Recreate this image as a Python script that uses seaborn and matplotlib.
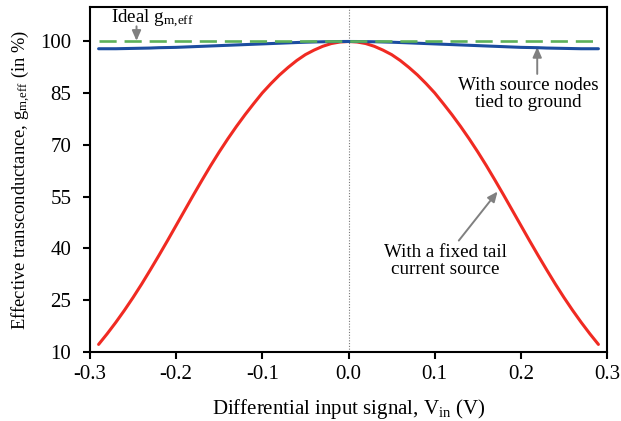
import numpy as np
import pandas as pd
import matplotlib
matplotlib.use("Agg")
import matplotlib.pyplot as plt
import seaborn as sns

# Differential input voltage (V)
vin = [-0.29, -0.28, -0.27, -0.26, -0.25, -0.24, -0.23, -0.22, -0.21, -0.20,
       -0.19, -0.18, -0.17, -0.16, -0.15, -0.14, -0.13, -0.12, -0.11, -0.10,
       -0.09, -0.08, -0.07, -0.06, -0.05, -0.04, -0.03, -0.02, -0.01, 0.00,
       0.01, 0.02, 0.03, 0.04, 0.05, 0.06, 0.07, 0.08, 0.09, 0.10,
       0.11, 0.12, 0.13, 0.14, 0.15, 0.16, 0.17, 0.18, 0.19, 0.20,
       0.21, 0.22, 0.23, 0.24, 0.25, 0.26, 0.27, 0.28, 0.29]

# Effective transconductance (% of ideal) with a fixed tail current source
gm_tail = [12.2, 15.3, 18.6, 22.1, 25.8, 29.7, 33.8, 38.0, 42.3, 46.7,
           51.1, 55.5, 59.8, 64.0, 68.0, 71.8, 75.4, 78.8, 82.0, 85.1,
           87.8, 90.3, 92.5, 94.5, 96.2, 97.5, 98.6, 99.4, 99.85, 100.0,
           99.85, 99.4, 98.6, 97.5, 96.2, 94.5, 92.5, 90.3, 87.8, 85.1,
           82.0, 78.8, 75.4, 71.8, 68.0, 64.0, 59.8, 55.5, 51.1, 46.7,
           42.3, 38.0, 33.8, 29.7, 25.8, 22.1, 18.6, 15.3, 12.2]

# Effective transconductance (% of ideal) with source nodes tied to ground
gm_grounded = [97.9, 97.9, 97.9, 97.95, 98.0, 98.05, 98.1, 98.2, 98.25, 98.3,
               98.4, 98.5, 98.6, 98.7, 98.8, 98.9, 99.0, 99.1, 99.2, 99.3,
               99.4, 99.5, 99.6, 99.7, 99.79, 99.86, 99.92, 99.96, 99.99, 100.0,
               99.99, 99.96, 99.92, 99.86, 99.79, 99.7, 99.6, 99.5, 99.4, 99.3,
               99.2, 99.1, 99.0, 98.9, 98.8, 98.7, 98.6, 98.5, 98.4, 98.3,
               98.25, 98.2, 98.1, 98.05, 98.0, 97.95, 97.9, 97.9, 97.9]

# Ideal effective transconductance
ideal_x = [-0.29, 0.29]
ideal_y = [100.0, 100.0]

x_ticks = [-0.3, -0.2, -0.1, 0.0, 0.1, 0.2, 0.3]
x_ticklabels = ["-0.3", "-0.2", "-0.1", "0.0", "0.1", "0.2", "0.3"]
y_ticks = [10, 25, 40, 55, 70, 85, 100]

sns.set_theme(style="white")
plt.rcParams["font.family"] = ["Liberation Serif", "DejaVu Serif"]
plt.rcParams["mathtext.fontset"] = "custom"
plt.rcParams["mathtext.rm"] = "Liberation Serif"
plt.rcParams["mathtext.it"] = "Liberation Serif:italic"
plt.rcParams["axes.unicode_minus"] = False

df_tail = pd.DataFrame({"vin": vin, "gm": gm_tail})
df_gnd = pd.DataFrame({"vin": vin, "gm": gm_grounded})
df_ideal = pd.DataFrame({"vin": ideal_x, "gm": ideal_y})

fig = plt.figure(figsize=(6.21, 4.21), dpi=100)
ax = fig.add_axes([0.1449, 0.1639, 0.9775 - 0.1449, 0.9834 - 0.1639])

ax.axvline(0.0, color="#777777", lw=0.8, ls=(0, (1, 1.5)), zorder=1)

sns.lineplot(data=df_tail, x="vin", y="gm", ax=ax, color="#f02a22", lw=2.2, zorder=3)
sns.lineplot(data=df_gnd, x="vin", y="gm", ax=ax, color="#1c4da0", lw=2.2, zorder=4)
sns.lineplot(data=df_ideal, x="vin", y="gm", ax=ax, color="#5cb05a", lw=1.9,
             dashes=False, zorder=5).lines[-1].set_dashes((6.5, 3.0))

ax.set_xlim(-0.3, 0.3)
ax.set_ylim(10, 110)
ax.set_xticks(x_ticks)
ax.set_xticklabels(x_ticklabels)
ax.set_yticks(y_ticks)

for s in ax.spines.values():
    s.set_color("black")
    s.set_linewidth(1.5)
ax.tick_params(axis="both", which="major", direction="out", length=5, width=1.5,
               color="black", labelsize=15, labelcolor="black",
               bottom=True, left=True, top=False, right=False)
ax.tick_params(axis="x", pad=4.5)
ax.tick_params(axis="y", pad=8.5)

ax.set_xlabel(r"Differential input signal, V$_{\mathrm{in}}$ (V)", fontsize=15, color="black", labelpad=9.5)
ax.set_ylabel(r"Effective transconductance, g$_{\mathrm{m{,}eff}}$ (in %)", fontsize=13.3, color="black", labelpad=6)

arrow_kw = dict(arrowstyle="-|>,head_length=0.5,head_width=0.22", color="#808080", lw=1.4,
                shrinkA=0, shrinkB=0)

# Ideal line label
ax.text(-0.2756, 105.3, r"Ideal g$_{\mathrm{m{,}eff}}$", fontsize=13.7, ha="left", va="baseline", color="black")
ax.annotate("", xy=(-0.246, 100.2), xytext=(-0.246, 104.4), arrowprops=arrow_kw)

# Source nodes tied to ground label
ax.annotate("", xy=(0.219, 98.4), xytext=(0.219, 90.6), arrowprops=arrow_kw)
ax.text(0.209, 89.8, "With source nodes\ntied to ground", fontsize=13.7, ha="center", va="top",
        linespacing=1.0, color="black")

# Fixed tail current source label
ax.annotate("", xy=(0.173, 56.5), xytext=(0.128, 42.3), arrowprops=arrow_kw)
ax.text(0.112, 41.3, "With a fixed tail\ncurrent source", fontsize=13.7, ha="center", va="top",
        linespacing=1.0, color="black")

fig.savefig("out.png", dpi=100)
